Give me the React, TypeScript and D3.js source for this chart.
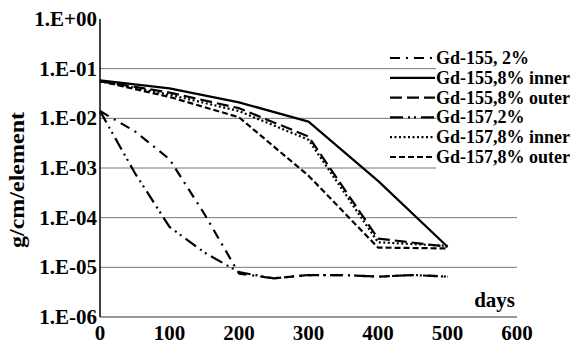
import React from 'react'
import * as d3 from 'd3'

// days sampled every 100 for the 8% pins, every 50 for the 2% pins
const days100 = [0, 100, 200, 300, 400, 500]
const days50 = [0, 50, 100, 150, 200, 250, 300, 350, 400, 450, 500]

const gd155_2 = [1.4e-2, 5.5e-3, 1.5e-3, 1.2e-4, 7.5e-6, 6e-6, 7e-6, 7e-6, 6.5e-6, 7e-6, 6.5e-6]
const gd155_8in = [5.8e-2, 4.0e-2, 2.1e-2, 8.6e-3, 5.5e-4, 2.6e-5]
const gd155_8out = [5.6e-2, 3.3e-2, 1.6e-2, 4.3e-3, 3.8e-5, 2.6e-5]
const gd157_2 = [1.4e-2, 8e-4, 6.5e-5, 2e-5, 8e-6, 6e-6, 7e-6, 7e-6, 6.5e-6, 7e-6, 6.5e-6]
const gd157_8in = [5.6e-2, 3.0e-2, 1.4e-2, 3.7e-3, 3.2e-5, 2.7e-5]
const gd157_8out = [5.6e-2, 2.7e-2, 1.05e-2, 7e-4, 2.5e-5, 2.4e-5]

const xTicks = [0, 100, 200, 300, 400, 500, 600]
const yTicks = [1, 1e-1, 1e-2, 1e-3, 1e-4, 1e-5, 1e-6]
const yTickLabels = ['1.E+00', '1.E-01', '1.E-02', '1.E-03', '1.E-04', '1.E-05', '1.E-06']

const seriesNames = ['Gd-155, 2%', 'Gd-155,8% inner', 'Gd-155,8% outer', 'Gd-157,2%', 'Gd-157,8% inner', 'Gd-157,8% outer']
const seriesDays = [days50, days100, days100, days50, days100, days100]
const seriesValues = [gd155_2, gd155_8in, gd155_8out, gd157_2, gd157_8in, gd157_8out]
const seriesDash = ['10,6,2,6', 'none', '12,5', '13,5,2,4,2,5', '2,2.5', '6,3']

const font = '"Liberation Serif", "Times New Roman", serif'

export default function App() {
    const width = 575
    const height = 345

    const x = d3.scaleLinear().domain([0, 600]).range([100, 517])
    const y = d3.scaleLog().domain([1e-6, 1]).range([317, 19])

    const line = d3.line<[number, number]>()
        .x(d => x(d[0]))
        .y(d => y(d[1]))

    return (
        <svg width={width} height={height} style={{ position: 'absolute', left: 0, top: 0, background: '#fff' }}>
            {/* grid */}
            {yTicks.slice(1, 6).map(t => (
                <line key={t} x1={x(0)} x2={x(600)} y1={y(t)} y2={y(t)} stroke="#777" strokeWidth={1} />
            ))}
            <line x1={x(0)} x2={x(600)} y1={y(1e-6)} y2={y(1e-6)} stroke="#333" strokeWidth={1.2} />
            <line x1={x(0)} x2={x(0)} y1={y(1)} y2={y(1e-6)} stroke="#000" strokeWidth={1.5} />

            {/* legend background hides grid under the text */}
            <rect x={436} y={45} width={139} height={125} fill="#fff" />

            {seriesValues.map((vals, i) => (
                <path key={i}
                    d={line(vals.map((v, j) => [seriesDays[i][j], v] as [number, number])) || ''}
                    fill="none" stroke="#000" strokeWidth={2.2}
                    strokeDasharray={seriesDash[i]} strokeLinejoin="round" />
            ))}

            {/* y ticks */}
            {yTicks.map((t, i) => (
                <text key={t} x={97} y={y(t) + 7} textAnchor="end" fontFamily={font}
                    fontWeight="bold" fontSize={21}>{yTickLabels[i]}</text>
            ))}
            {/* x ticks */}
            {xTicks.map(t => (
                <text key={t} x={x(t)} y={340} textAnchor="middle" fontFamily={font}
                    fontWeight="bold" fontSize={21}>{t}</text>
            ))}

            <text x={515} y={307} textAnchor="end" fontFamily={font} fontWeight="bold" fontSize={21}>days</text>
            <text transform="translate(24,180) rotate(-90)" textAnchor="middle" fontFamily={font}
                fontWeight="bold" fontSize={21} textLength={136} lengthAdjust="spacingAndGlyphs">g/cm/element</text>

            {/* legend */}
            {seriesNames.map((name, i) => {
                const cy = 58 + i * 19.8
                return (
                    <g key={name}>
                        <line x1={390} x2={435} y1={cy} y2={cy} stroke="#000" strokeWidth={2.2}
                            strokeDasharray={seriesDash[i]} />
                        <text x={436} y={cy + 6} fontFamily={font} fontWeight="bold" fontSize={18}>{name}</text>
                    </g>
                )
            })}
        </svg>
    )
}
